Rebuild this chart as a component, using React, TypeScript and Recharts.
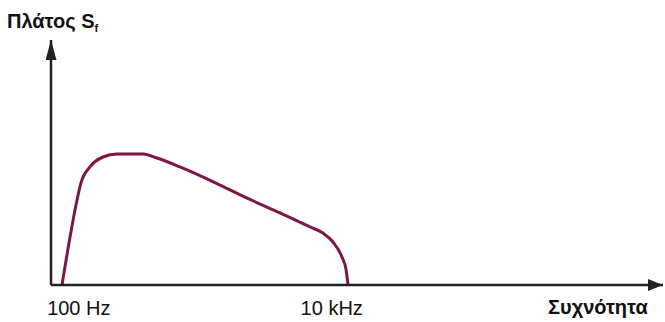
import { LineChart, Line, XAxis, YAxis } from 'recharts';

// x = log10(frequency in Hz), y = relative amplitude (peak = 1)
const logFreq = [1.867, 1.986, 2.017, 2.088, 2.191, 2.302, 2.508, 2.618, 2.8, 3.117, 3.354, 3.591, 3.828, 3.931, 4.01, 4.081, 4.114, 4.129];
const amplitude = [0, 0.649, 0.779, 0.901, 0.977, 1.0, 1.0, 0.969, 0.901, 0.763, 0.653, 0.55, 0.443, 0.397, 0.328, 0.214, 0.115, 0];

const tickValues = [2, 4];
const tickLabels = ['100 Hz', '10 kHz'];

const data = logFreq.map((f, i) => ({ f, a: amplitude[i] }));

const FONT = '"Liberation Sans", Arial, sans-serif';
const AXIS = '#222';
const CURVE = '#7d1747';

export default function App() {
    return (
        <div style={{ position: 'absolute', left: 0, top: 0, width: 665, height: 322, background: '#fff', fontFamily: FONT }}>
            <LineChart width={665} height={322} data={data} margin={{ top: 40, right: 2, bottom: 0, left: 1 }}>
                <defs>
                    <marker id="arrowY" markerUnits="userSpaceOnUse" markerWidth={20} markerHeight={11}
                        refX={20} refY={5.5} orient="auto-start-reverse">
                        <path d="M0,0 L20,5.5 L0,11 z" fill={AXIS} />
                    </marker>
                    <marker id="arrowX" markerUnits="userSpaceOnUse" markerWidth={15} markerHeight={12}
                        refX={15} refY={6} orient="auto">
                        <path d="M0,0 L15,6 L0,12 z" fill={AXIS} />
                    </marker>
                </defs>
                <XAxis
                    type="number"
                    dataKey="f"
                    domain={[1.78, 6.62]}
                    ticks={tickValues}
                    tickFormatter={(v: number) => tickLabels[tickValues.indexOf(v)] ?? ''}
                    height={37}
                    stroke={AXIS}
                    axisLine={{ stroke: AXIS, strokeWidth: 2.5, markerEnd: 'url(#arrowX)' }}
                    tickLine={false}
                    tickSize={0}
                    tickMargin={16}
                    tick={{ fill: '#111', fontSize: 20, fontFamily: FONT }}
                    allowDataOverflow
                />
                <YAxis
                    type="number"
                    domain={[0, 1.87]}
                    width={50}
                    stroke={AXIS}
                    axisLine={{ stroke: AXIS, strokeWidth: 2.5, markerStart: 'url(#arrowY)' }}
                    tick={false}
                    tickLine={false}
                    allowDataOverflow
                />
                <Line
                    type="monotone"
                    dataKey="a"
                    stroke={CURVE}
                    strokeWidth={3}
                    dot={false}
                    activeDot={false}
                    isAnimationActive={false}
                />
            </LineChart>
            <div style={{ position: 'absolute', left: 7, top: 11, fontSize: 20, lineHeight: '20px', fontWeight: 'bold', color: '#111', whiteSpace: 'nowrap' }}>
                Πλάτος S<span style={{ fontSize: 11, position: 'relative', top: 4 }}>f</span>
            </div>
            <div style={{ position: 'absolute', left: 548, top: 297, fontSize: 20, lineHeight: '20px', fontWeight: 'bold', color: '#111', whiteSpace: 'nowrap' }}>
                Συχνότητα
            </div>
        </div>
    );
}
